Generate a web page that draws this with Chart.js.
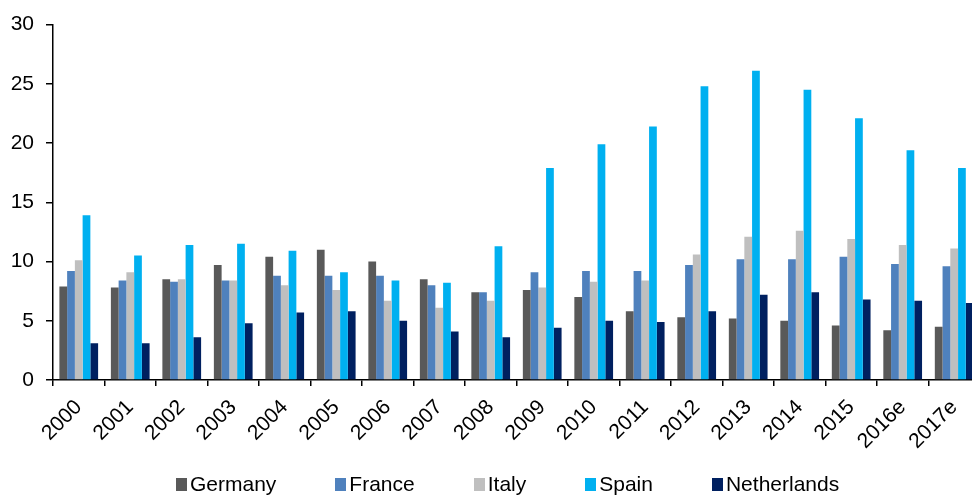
<!DOCTYPE html>
<html>
<head>
<meta charset="utf-8">
<script src="https://cdn.jsdelivr.net/npm/chart.js@4.4.1/dist/chart.umd.min.js"></script>
<style>
  html, body { margin: 0; padding: 0; overflow: hidden; background: #fff; width: 972px; height: 495px; }
  #wrap { position: absolute; left: 0; top: 0; width: 981px; height: 495px; }
  #legend { position: absolute; left: 176px; top: 472px; display: flex; align-items: center; gap: 59px;
            font-family: "Liberation Sans", Arial, sans-serif; font-size: 21px; line-height: 24px; color: #000; white-space: nowrap; }
  .item { display: flex; align-items: center; gap: 3px; }
  .box { width: 11px; height: 13px; }
</style>
</head>
<body>
<div id="wrap"><canvas id="c"></canvas></div>
<div id="legend"></div>
<script>
const categories = ["2000","2001","2002","2003","2004","2005","2006","2007","2008","2009","2010","2011","2012","2013","2014","2015","2016e","2017e"];
const seriesNames = ["Germany","France","Italy","Spain","Netherlands"];
const seriesColors = ["#595959","#4F81BD","#BFBFBF","#00B0F0","#002060"];
const germany     = [7.9, 7.8, 8.5, 9.7, 10.4, 11.0, 10.0, 8.5, 7.4, 7.6, 7.0, 5.8, 5.3, 5.2, 5.0, 4.6, 4.2, 4.5];
const france      = [9.2, 8.4, 8.3, 8.4, 8.8, 8.8, 8.8, 8.0, 7.4, 9.1, 9.2, 9.2, 9.7, 10.2, 10.2, 10.4, 9.8, 9.6];
const italy       = [10.1, 9.1, 8.5, 8.4, 8.0, 7.6, 6.7, 6.1, 6.7, 7.8, 8.3, 8.4, 10.6, 12.1, 12.6, 11.9, 11.4, 11.1];
const spain       = [13.9, 10.5, 11.4, 11.5, 10.9, 9.1, 8.4, 8.2, 11.3, 17.9, 19.9, 21.4, 24.8, 26.1, 24.5, 22.1, 19.4, 17.9];
const netherlands = [3.1, 3.1, 3.6, 4.8, 5.7, 5.8, 5.0, 4.1, 3.6, 4.4, 5.0, 4.9, 5.8, 7.2, 7.4, 6.8, 6.7, 6.5];
const seriesValues = [germany, france, italy, spain, netherlands];
const yTicks = [0, 5, 10, 15, 20, 25, 30];

const FONT = "'Liberation Sans', Arial, sans-serif";

const datasets = seriesNames.map((n, i) => ({
  label: n,
  data: seriesValues[i],
  backgroundColor: seriesColors[i],
  borderWidth: 0,
  barPercentage: 1.0,
  categoryPercentage: 0.752
}));

new Chart(document.getElementById('c'), {
  type: 'bar',
  data: { labels: categories, datasets },
  options: {
    responsive: true,
    maintainAspectRatio: false,
    animation: false,
    layout: { padding: { top: 18, right: 0, bottom: 0, left: 0 } },
    plugins: { legend: { display: false }, tooltip: { enabled: false } },
    scales: {
      x: {
        grid: { offset: true, drawOnChartArea: false, drawTicks: true, tickLength: 6, color: '#000', lineWidth: 1.5 },
        border: { color: '#000', width: 1.5 },
        ticks: { color: '#000', font: { family: FONT, size: 21 }, minRotation: 45, maxRotation: 45, padding: 9, autoSkip: false },
        afterFit: s => { s.height = 115; }
      },
      y: {
        min: 0, max: 30,
        afterBuildTicks: s => { s.ticks = yTicks.map(v => ({ value: v })); },
        grid: { drawOnChartArea: false, drawTicks: true, tickLength: 7, color: '#000', lineWidth: 1.5 },
        border: { color: '#000', width: 1.5 },
        ticks: { color: '#000', font: { family: FONT, size: 21 }, padding: 12 },
        afterFit: s => { s.width = 53; }
      }
    }
  }
});

const leg = document.getElementById('legend');
seriesNames.forEach((n, i) => {
  const it = document.createElement('div'); it.className = 'item';
  const b = document.createElement('span'); b.className = 'box'; b.style.background = seriesColors[i];
  const t = document.createElement('span'); t.textContent = n;
  it.appendChild(b); it.appendChild(t); leg.appendChild(it);
});
</script>
</body>
</html>
